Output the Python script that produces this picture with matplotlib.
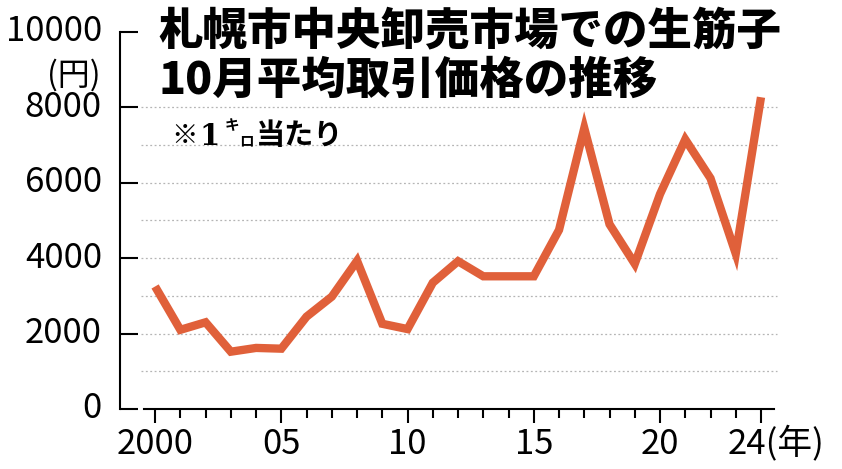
import matplotlib.pyplot as plt
from matplotlib.ticker import FixedLocator
from matplotlib.transforms import ScaledTranslation

# 札幌市中央卸売市場 生筋子 10月平均取引価格（円/kg）
years = list(range(2000, 2025))
prices = [3250, 2100, 2300, 1520, 1620, 1600, 2450, 2980, 3930, 2260,
          2120, 3350, 3920, 3520, 3520, 3520, 4750, 7450, 4900, 3850,
          5700, 7150, 6120, 4120, 8270]

y_ticks = [0, 2000, 4000, 6000, 8000, 10000]
y_labels = ['0', '2000', '4000', '6000', '8000', '10000']
grid_levels = [1000, 2000, 3000, 4000, 5000, 6000, 7000, 8000]
x_major = [2000, 2005, 2010, 2015, 2020, 2024]
x_labels = ['2000', '05', '10', '15', '20', '']
last_label = '24(年)'

JP_FONT = ['Noto Sans CJK JP', 'DejaVu Sans']
plt.rcParams['font.family'] = JP_FONT

W, H = 842, 469
fig = plt.figure(figsize=(W / 100, H / 100), dpi=100)
ax = fig.add_axes([120 / W, 1 - 409 / H, (787 - 120) / W, (409 - 32) / H])
ax.set_xlim(1998.61, 2025.03)
ax.set_ylim(0, 10000)

# 点線の目盛線
ax.hlines(grid_levels, 1999.45, 2024.65, colors='#b5b5b5', linewidth=0.9,
          linestyles=(0, (1.5, 2.0)), zorder=1)

ax.plot(years, prices, color='#e0603a', linewidth=6.0, solid_joinstyle='miter',
        solid_capstyle='butt', zorder=3)

for s in ['top', 'right']:
    ax.spines[s].set_visible(False)
ax.spines['left'].set_linewidth(1.5)
ax.spines['bottom'].set_linewidth(1.5)
ax.spines['bottom'].set_bounds(1999.55, 2024.5)

ax.yaxis.set_major_locator(FixedLocator(y_ticks))
ax.set_yticklabels(y_labels)
ax.tick_params(axis='y', direction='in', length=13, width=1.5, pad=13,
               labelsize=25)
up = ScaledTranslation(0, 3 / 72, fig.dpi_scale_trans)
for lbl in ax.get_yticklabels():
    lbl.set_transform(lbl.get_transform() + up)

ax.xaxis.set_major_locator(FixedLocator(x_major))
ax.xaxis.set_minor_locator(FixedLocator(years))
ax.set_xticklabels(x_labels)
ax.tick_params(axis='x', which='major', direction='out', length=10, width=1.5,
               pad=3, labelsize=25)
ax.tick_params(axis='x', which='minor', direction='out', length=6.5, width=1.5)

# 単位
fig.text(101 / W, 1 - 75 / H, '(円)', ha='right', va='center', fontsize=23)
fig.text(728 / W, 1 - 444 / H, last_label, ha='left', va='center', fontsize=25)

# タイトル
fig.text(158 / W, 1 - 8 / H, '札幌市中央卸売市場での生筋子\n10月平均取引価格の推移',
         ha='left', va='top', fontsize=32, fontweight='heavy',
         linespacing=1.12, zorder=5)

# ※1キロ当たり
sub_y = 1 - 135 / H
fig.text(171 / W, sub_y, '※', ha='left', va='center', fontsize=19,
         fontweight='bold')
fig.text(199 / W, sub_y - 1 / H, '1', ha='left', va='center', fontsize=21,
         fontweight='bold', family=['DejaVu Serif'])
fig.text(225 / W, 1 - 125 / H, 'キ', ha='left', va='center', fontsize=10.5,
         fontweight='bold')
fig.text(239 / W, 1 - 140 / H, 'ロ', ha='left', va='center', fontsize=10.5,
         fontweight='bold')
fig.text(256 / W, sub_y, '当たり', ha='left', va='center', fontsize=21,
         fontweight='bold')

fig.savefig('out.png', dpi=100, facecolor='white')
